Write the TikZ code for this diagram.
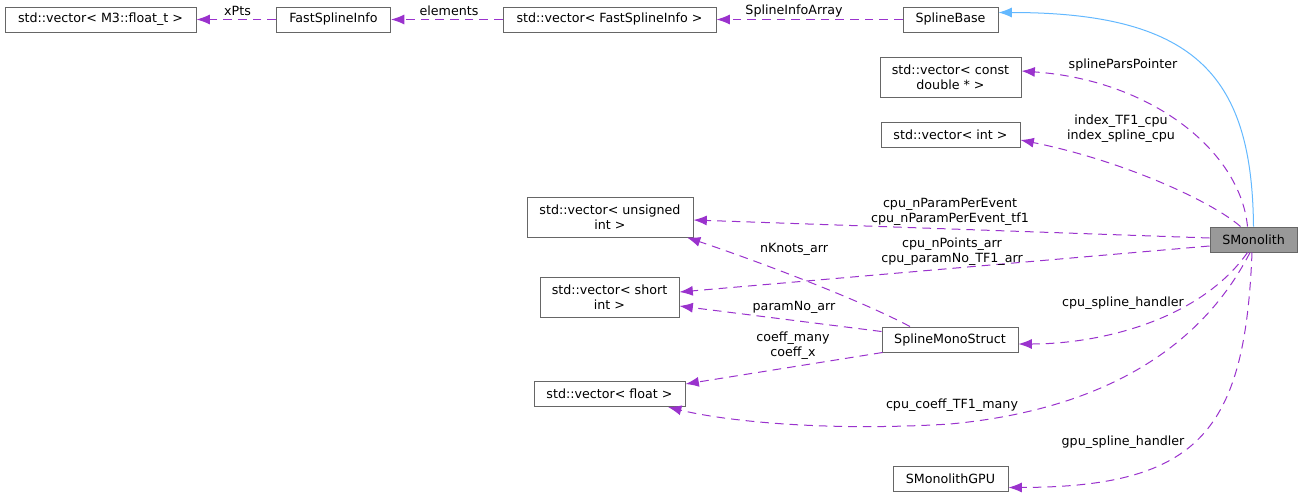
\documentclass[tikz,border=0pt]{standalone}
\usepackage{fontspec}
\setmainfont{DejaVu Sans}
\usetikzlibrary{arrows.meta,calc}
\definecolor{memberedge}{HTML}{9A32CD}
\definecolor{baseedge}{HTML}{63B8FF}
\definecolor{boxline}{HTML}{666666}
\definecolor{boxfill}{HTML}{999999}
\begin{document}
\begin{tikzpicture}[x=0.75pt,y=-0.75pt]
    \useasboundingbox (0,0) rectangle (1303,497);

    \tikzset{cls/.style={draw=boxline, line width=0.75pt, fill=white, minimum height=18.75pt, inner sep=1pt, align=center, font=\fontsize{9.5}{11}\selectfont},
             lbl/.style={inner sep=0pt, align=center, font=\fontsize{9.5}{11}\selectfont},
             member/.style={memberedge, line width=0.75pt, dash pattern=on 6.5pt off 4.5pt, -{Latex[length=10pt,width=7.5pt]}},
             inherit/.style={baseedge, line width=0.75pt, -{Latex[length=10pt,width=7.5pt]}}}

    % classes
    \node[cls, minimum width=143.25pt] (vm3) at (100.5,19.5) {std::vector< M3::float\_t >};
    \node[cls, minimum width=85.5pt] (fsi) at (333.5,19.5) {FastSplineInfo};
    \node[cls, minimum width=159.75pt] (vfsi) at (609.5,19.5) {std::vector< FastSplineInfo >};
    \node[cls, minimum width=71.25pt] (sbase) at (950.5,19.5) {SplineBase};
    \node[cls, minimum width=105.75pt, minimum height=30pt] (vcd) at (950.5,77) {std::vector< const\\double * >};
    \node[cls, minimum width=104.25pt] (vint) at (950.5,134.5) {std::vector< int >};
    \node[cls, minimum width=124.5pt, minimum height=30pt] (vecu) at (610,217) {std::vector< unsigned\\int >};
    \node[cls, minimum width=65.25pt, fill=boxfill] (smono) at (1253.5,239.5) {SMonolith};
    \node[cls, minimum width=104.25pt, minimum height=30pt] (vsh) at (609.5,297) {std::vector< short\\int >};
    \node[cls, minimum width=102pt] (sms) at (950,339.5) {SplineMonoStruct};
    \node[cls, minimum width=113.25pt] (vfl) at (609.5,394) {std::vector< float >};
    \node[cls, minimum width=86.25pt] (gpu) at (950.5,478.5) {SMonolithGPU};

    % top row
    \draw[member] (fsi) -- (vm3);
    \draw[member] (vfsi) -- (fsi);
    \draw[member] (sbase) -- (vfsi);
    \draw[inherit] (smono.north) .. controls (1252,80) and (1200,12.5) .. ($(sbase.east)+(0,-7)$);

    % members of SMonolith
    \draw[member] ($(smono.north)+(-6,0)$) .. controls (1240,150) and (1150,80) .. ($(vcd.east)+(0,-6)$);
    \draw[member] ($(smono.north)+(-13,0)$) .. controls (1210,200) and (1120,160) .. ($(vint.east)+(0,5.5)$);
    \draw[member] ($(smono.west)+(0,-1.5)$) -- ($(vecu.east)+(0,3)$);
    \draw[member] ($(smono.west)+(0,6.5)$) -- ($(vsh.east)+(0,-5)$);
    \draw[member] ($(smono.south)+(-6,0)$) .. controls (1200,320) and (1100,344) .. ($(sms.east)+(0,4.5)$);
    \draw[member] ($(smono.south)+(-3.5,0)$) .. controls (1200,350) and (1100,410) .. (950,424)
        .. controls (820,432) and (720,420) .. ($(vfl.south)+(58.5,0)$);
    \draw[member] ($(smono.south)+(-1.5,0)$) .. controls (1245,430) and (1200,487) .. ($(gpu.east)+(0,9)$);

    % members of SplineMonoStruct
    \draw[member] ($(sms.north)+(-40,0)$) .. controls (860,300) and (760,262) .. ($(vecu.south)+(77,0)$);
    \draw[member] ($(sms.west)+(0,-8)$) -- ($(vsh.east)+(0,9)$);
    \draw[member] ($(sms.south west)+(1,0)$) -- ($(vfl.east)+(0,-10)$);

    % labels
    \node[lbl] (lxpts) at (237.5,11) {xPts};
    \node[lbl] (lelem) at (449,11) {elements};
    \node[lbl] (lsia) at (794,11) {SplineInfoArray};
    \node[lbl] (lspp) at (1123,65) {splineParsPointer};
    \node[lbl] (lidx) at (1121,129) {index\_TF1\_cpu\\index\_spline\_cpu};
    \node[lbl] (lnpp) at (950,212) {cpu\_nParamPerEvent\\cpu\_nParamPerEvent\_tf1};
    \node[lbl] (lnpts) at (952,252) {cpu\_nPoints\_arr\\cpu\_paramNo\_TF1\_arr};
    \node[lbl] (lknots) at (794,249) {nKnots\_arr};
    \node[lbl] (lparno) at (794,307) {paramNo\_arr};
    \node[lbl] (lcoeff) at (793,346) {coeff\_many\\coeff\_x};
    \node[lbl] (lcsh) at (1123,303) {cpu\_spline\_handler};
    \node[lbl] (lctf) at (952,405) {cpu\_coeff\_TF1\_many};
    \node[lbl] (lgsh) at (1123,442) {gpu\_spline\_handler};

\end{tikzpicture}
\end{document}
